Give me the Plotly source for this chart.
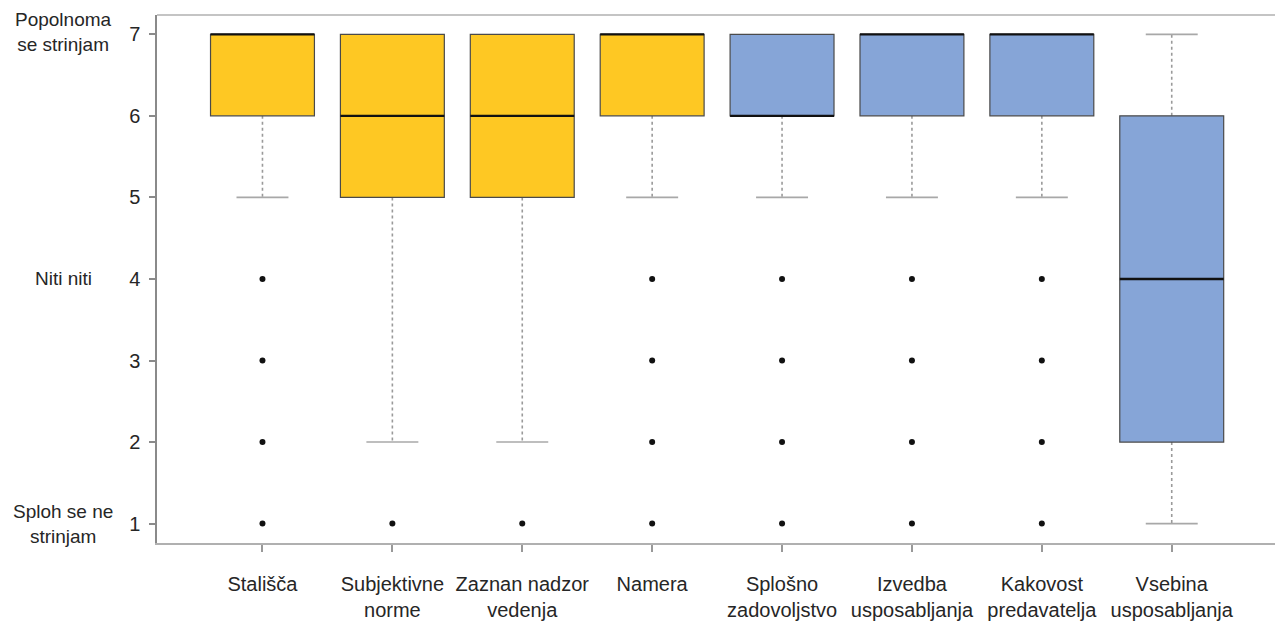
import plotly.graph_objects as go

# Likert-scale summaries (1-7) for each questionnaire block
categories = [
    "Stališča",
    "Subjektivne<br>norme",
    "Zaznan nadzor<br>vedenja",
    "Namera",
    "Splošno<br>zadovoljstvo",
    "Izvedba<br>usposabljanja",
    "Kakovost<br>predavatelja",
    "Vsebina<br>usposabljanja",
]
q1 = [6, 5, 5, 6, 6, 6, 6, 2]
median = [7, 6, 6, 7, 6, 7, 7, 4]
q3 = [7, 7, 7, 7, 7, 7, 7, 6]
lower_whisker = [5, 2, 2, 5, 5, 5, 5, 1]
upper_whisker = [7, 7, 7, 7, 7, 7, 7, 7]
outliers = [
    [4, 3, 2, 1],
    [1],
    [1],
    [4, 3, 2, 1],
    [4, 3, 2, 1],
    [4, 3, 2, 1],
    [4, 3, 2, 1],
    [],
]
fill_colors = ["#FEC823"] * 4 + ["#86A5D7"] * 4

y_ticks = [1, 2, 3, 4, 5, 6, 7]
scale_labels = {7: "Popolnoma<br>se strinjam", 4: "Niti niti", 1: "Sploh se ne<br>strinjam"}

BOX_HALF = 0.4
CAP_HALF = 0.2
FONT = "Liberation Sans, Arial"
TEXT = "#262626"

shapes = []
for i in range(len(categories)):
    # dotted whiskers with solid caps
    for a, b in ((q3[i], upper_whisker[i]), (q1[i], lower_whisker[i])):
        if a != b:
            shapes.append(dict(type="line", xref="x", yref="y", x0=i, x1=i, y0=a, y1=b,
                               line=dict(color="#9a9a9a", width=1.6, dash="dot"), layer="below"))
            shapes.append(dict(type="line", xref="x", yref="y", x0=i - CAP_HALF, x1=i + CAP_HALF,
                               y0=b, y1=b, line=dict(color="#a8a8a8", width=1.6), layer="below"))
    # box body
    shapes.append(dict(type="rect", xref="x", yref="y", x0=i - BOX_HALF, x1=i + BOX_HALF,
                       y0=q1[i], y1=q3[i], fillcolor=fill_colors[i],
                       line=dict(color="#4a4a4a", width=1.2)))
    # median
    shapes.append(dict(type="line", xref="x", yref="y", x0=i - BOX_HALF, x1=i + BOX_HALF,
                       y0=median[i], y1=median[i], line=dict(color="#111111", width=2.4)))

# frame line along the top of the plotting region
shapes.append(dict(type="line", xref="paper", yref="paper", x0=0, x1=1, y0=1, y1=1,
                   line=dict(color="#b0b0b0", width=1.5)))

fig = go.Figure()

ox, oy = [], []
for i, pts in enumerate(outliers):
    for v in pts:
        ox.append(i)
        oy.append(v)
fig.add_trace(go.Scatter(x=ox, y=oy, mode="markers",
                         marker=dict(color="#111111", size=6), showlegend=False,
                         hoverinfo="y"))

annotations = []
for yv, txt in scale_labels.items():
    annotations.append(dict(x=-0.084, xref="paper", y=yv, yref="y", text=txt,
                            showarrow=False, xanchor="center", yanchor="middle",
                            yshift=2 if yv == 7 else 0,
                            font=dict(family=FONT, size=19, color=TEXT)))

fig.update_layout(
    width=1275, height=623,
    margin=dict(l=157, r=0, t=15, b=80),
    paper_bgcolor="white", plot_bgcolor="white",
    shapes=shapes, annotations=annotations,
    showlegend=False,
    font=dict(family=FONT, size=19, color=TEXT),
    xaxis=dict(
        range=[-0.812, 7.795], tickmode="array",
        tickvals=list(range(len(categories))), ticktext=categories,
        showgrid=False, zeroline=False, showline=True, linecolor="#b0b0b0", linewidth=1.5,
        ticks="outside", ticklen=7, tickcolor="#999999", tickwidth=1.5,
        ticklabelstandoff=15,
        tickfont=dict(family=FONT, size=20, color=TEXT),
    ),
    yaxis=dict(
        range=[0.762, 7.237], tickmode="array", tickvals=y_ticks,
        showgrid=False, zeroline=False, showline=True, linecolor="#8a8a8a", linewidth=1.5,
        ticks="outside", ticklen=6, tickcolor="#8a8a8a", tickwidth=1.5,
        ticklabelstandoff=5,
        tickfont=dict(family=FONT, size=20, color=TEXT),
    ),
)

fig.write_html("out.html")
